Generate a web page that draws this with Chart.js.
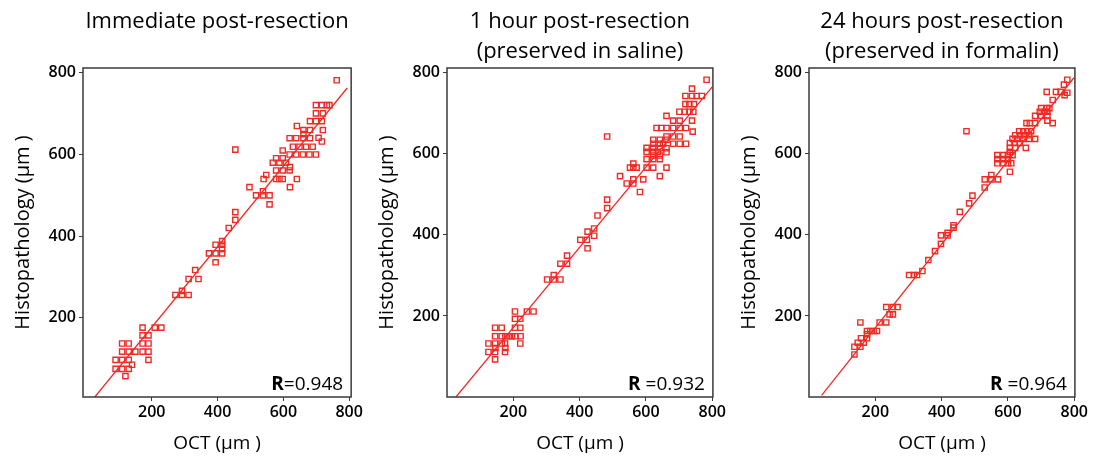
<!DOCTYPE html>
<html>
<head>
<meta charset="utf-8">
<script src="https://cdn.jsdelivr.net/npm/chart.js@4.4.1/dist/chart.umd.min.js"></script>
<style>
html, body { margin: 0; padding: 0; background: #fff; }
body { width: 1094px; height: 457px; position: relative; overflow: hidden; }
.panel { position: absolute; top: 0; height: 457px; }
</style>
</head>
<body>
<div class="panel" style="left:0;width:365px"><canvas id="c1"></canvas></div>
<div class="panel" style="left:364px;width:364px"><canvas id="c2"></canvas></div>
<div class="panel" style="left:726px;width:364px"><canvas id="c3"></canvas></div>
<script>
// titles, axis labels, ticks
const panelTitles = [
  ['Immediate post-resection'],
  ['1 hour post-resection', '(preserved in saline)'],
  ['24 hours post-resection', '(preserved in formalin)']
];
const xTitle = 'OCT (\u00b5m )';
const yTitle = 'Histopathology (\u00b5m )';
const tickValues = [200, 400, 600, 800];
const rLabels = [['R', '=0.948'], ['R', ' =0.932'], ['R', ' =0.964']];

// fitted lines: slope, intercept, x range
const fitSlope = [0.987, 0.99, 1.03];
const fitIntercept = [-20.6, -26.7, -35];
const fitFrom = [27, 27, 38];
const fitTo = [794, 800, 799];

// immediate post-resection [OCT, histopathology]
const immediate = [
  [90,97],[90,75],[110,137],[130,137],[110,117],[130,117],[110,97],[130,97],[110,75],[130,75],
  [120,57],[140,85],[150,117],[172,176],[172,157],[190,157],[172,137],[190,137],[172,117],[190,117],
  [190,97],[209,176],[229,176],
  [272,256],[292,256],[312,256],[292,266],[312,295],[332,317],[342,295],[374,358],[394,358],[414,358],
  [394,379],[414,379],[414,388],[414,369],[394,336],[434,420],[454,440],[454,459],[454,612],
  [762,782],[699,721],[717,721],[732,721],[740,721],[699,701],[720,701],[681,682],[699,682],[717,682],
  [641,670],[661,660],[681,660],[720,660],[661,650],[619,640],[639,640],[661,640],[681,640],[707,641],
  [717,632],[629,619],[649,619],[669,619],[689,619],[598,610],[619,600],[639,600],[659,600],[679,600],
  [699,600],[578,591],[598,591],[568,580],[588,580],[608,580],[620,569],[578,561],[598,561],[619,561],
  [548,550],[540,540],[578,540],[588,540],[598,540],[641,540],[497,520],[620,520],[538,510],[517,500],
  [538,500],[558,500],[558,478]
];

// 1 hour post-resection (saline)
const saline = [
  [145,171],[165,171],[205,211],[241,211],[261,211],[205,193],[221,193],[205,171],[221,171],[145,150],
  [165,150],[176,150],[186,150],[196,150],[206,150],[222,150],[125,132],[145,132],[165,132],[175,132],
  [221,132],[146,121],[176,121],[125,111],[145,111],[175,111],[145,93],
  [302,290],[322,290],[342,290],[322,301],[342,329],[362,329],[362,349],[402,388],[422,388],[424,408],
  [424,367],[444,416],[444,398],[454,448],
  [783,783],[739,761],[719,743],[739,743],[753,743],[769,743],[719,723],[731,723],[745,723],[701,704],
  [717,704],[731,704],[743,704],[662,694],[682,682],[702,682],[739,682],[632,664],[646,664],[662,664],
  [682,664],[702,664],[721,664],[741,655],[483,643],[662,643],[682,643],[702,643],[622,635],[642,635],
  [662,635],[682,625],[702,625],[721,625],[622,625],[642,625],[652,625],[602,615],[622,615],[642,614],
  [662,614],[602,605],[622,605],[636,605],[662,604],[602,587],[622,587],[642,587],[622,596],[642,596],
  [552,566],[562,566],[572,566],[602,566],[622,566],[662,566],[562,576],[522,545],[592,537],[642,545],
  [542,527],[562,527],[562,537],[582,506],[483,487],[483,466]
];

// 24 hours post-resection (formalin)
const formalin = [
  [137,105],[137,124],[155,124],[147,134],[165,134],[157,145],[175,145],[175,155],[175,163],[185,163],
  [195,163],[205,163],[155,184],[213,184],[233,184],[233,222],[253,222],[267,222],[243,204],[253,204],
  [302,301],[316,301],[326,301],[342,311],[360,338],[380,360],[398,378],[398,399],[418,399],[418,405],
  [436,424],[436,418],[455,457],
  [779,783],[769,771],[745,753],[759,753],[717,753],[779,751],[771,745],[735,733],[725,713],[717,713],
  [700,713],[696,704],[710,704],[719,704],[682,694],[700,694],[719,694],[719,682],[735,676],[656,676],
  [666,676],[682,676],[634,656],[646,656],[658,656],[670,656],[622,646],[636,646],[650,646],[664,646],
  [682,637],[614,637],[628,637],[646,637],[664,637],[606,627],[620,627],[636,627],[606,615],[622,615],
  [654,615],[606,605],[568,597],[586,597],[600,597],[614,597],[568,587],[586,587],[600,587],[568,577],
  [586,577],[600,577],[610,577],[606,556],[530,537],[550,537],[570,537],[530,517],[550,548],[493,497],
  [483,478],[475,656]
];

const allData = [immediate, saline, formalin];
const xMin = [-9, 0, 0], xMax = [806, 802, 802];
const yMin = [6, 0, 0], yMax = [812, 812, 812];

const red = '#f02a24';
const ink = '#000';
const fam = '"Open Sans", "Liberation Sans", sans-serif';

const boxPlugin = {
  id: 'box',
  afterDraw(chart) {
    const a = chart.chartArea, ctx = chart.ctx;
    ctx.save();
    ctx.strokeStyle = '#3a3a3a';
    ctx.lineWidth = 1.5;
    ctx.strokeRect(a.left, a.top, a.right - a.left, a.bottom - a.top);
    ctx.restore();
  }
};

const rPlugin = {
  id: 'rlabel',
  afterDatasetsDraw(chart, args, opts) {
    const a = chart.chartArea, ctx = chart.ctx;
    ctx.save();
    ctx.fillStyle = ink;
    ctx.textBaseline = 'alphabetic';
    ctx.textAlign = 'right';
    ctx.font = '19px ' + fam;
    const x = a.right - 8, y = a.bottom - 7;
    ctx.fillText(opts.parts[1], x, y);
    const w = ctx.measureText(opts.parts[1]).width;
    ctx.font = 'bold 19px ' + fam;
    ctx.fillText(opts.parts[0], x - w, y);
    ctx.restore();
  }
};

function makeChart(id, i) {
  const pts = allData[i].map(p => ({x: p[0], y: p[1]}));
  const fit = [fitFrom[i], fitTo[i]].map(x => ({x: x, y: fitSlope[i] * x + fitIntercept[i]}));
  new Chart(document.getElementById(id), {
    type: 'scatter',
    data: {
      datasets: [
        {
          data: pts,
          pointStyle: 'rect',
          pointRadius: 3.7,
          borderColor: red,
          backgroundColor: 'rgba(255,255,255,0)',
          borderWidth: 1.4
        },
        {
          type: 'line',
          data: fit,
          borderColor: red,
          borderWidth: 1.3,
          pointRadius: 0,
          fill: false
        }
      ]
    },
    options: {
      responsive: true,
      maintainAspectRatio: false,
      animation: false,
      layout: { padding: { left: 0, right: 13, top: 0, bottom: 0 } },
      plugins: {
        legend: { display: false },
        tooltip: { enabled: false },
        title: {
          display: true,
          fullSize: false,
          text: panelTitles[i],
          color: ink,
          font: { family: fam, size: 22, weight: 'normal', lineHeight: '30px' },
          padding: { top: 7, bottom: panelTitles[i].length === 1 ? 31 : 1 }
        },
        rlabel: { parts: rLabels[i] }
      },
      scales: {
        x: {
          type: 'linear',
          min: xMin[i],
          max: xMax[i],
          afterBuildTicks: s => { s.ticks = tickValues.map(v => ({value: v})); },
          afterFit: s => { s.height = 60; },
          grid: { display: true, drawOnChartArea: false, drawTicks: true, tickLength: 4, color: '#3a3a3a' },
          border: { display: false },
          ticks: { color: ink, padding: 2, maxRotation: 0, font: { family: fam, size: 16, weight: '600' } },
          title: {
            display: true,
            text: xTitle,
            color: ink,
            font: { family: fam, size: 19 },
            padding: { top: 0, bottom: 2 }
          }
        },
        y: {
          type: 'linear',
          min: yMin[i],
          max: yMax[i],
          afterBuildTicks: s => { s.ticks = tickValues.map(v => ({value: v})); },
          afterFit: s => { s.width = 83; },
          grid: { display: true, drawOnChartArea: false, drawTicks: true, tickLength: 4, color: '#3a3a3a' },
          border: { display: false },
          ticks: { color: ink, padding: 3, font: { family: fam, size: 16, weight: '600' } },
          title: {
            display: true,
            text: yTitle,
            color: ink,
            font: { family: fam, size: 20 },
            padding: { top: 11, bottom: 0 }
          }
        }
      }
    },
    plugins: [boxPlugin, rPlugin]
  });
}

makeChart('c1', 0);
makeChart('c2', 1);
makeChart('c3', 2);
</script>
</body>
</html>
